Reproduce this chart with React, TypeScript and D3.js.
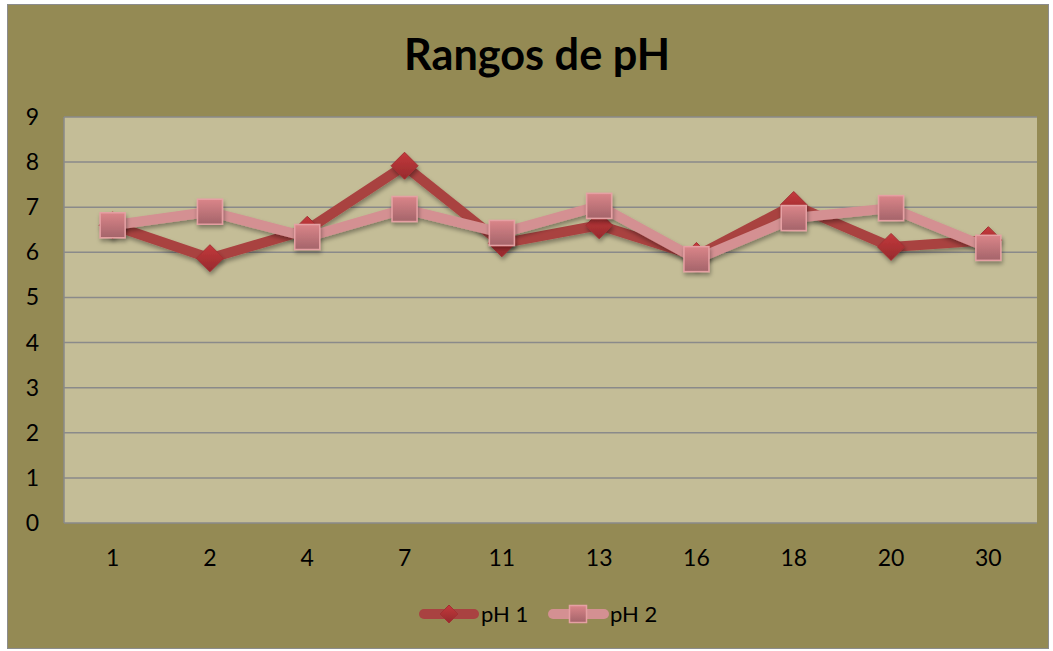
import React, { useEffect, useRef } from "react";
import * as d3 from "d3";

const categories = ["1", "2", "4", "7", "11", "13", "16", "18", "20", "30"];
const ph1 = [6.6, 5.87, 6.5, 7.92, 6.2, 6.6, 5.92, 7.05, 6.12, 6.27];
const ph2 = [6.6, 6.9, 6.34, 6.96, 6.43, 7.03, 5.85, 6.76, 6.98, 6.1];
const yTicks = [0, 1, 2, 3, 4, 5, 6, 7, 8, 9];
const seriesNames = ["pH 1", "pH 2"];

const W = 1053;
const H = 651;

export default function App() {
  const ref = useRef<SVGSVGElement>(null);

  useEffect(() => {
    const svg = d3.select(ref.current);
    svg.selectAll("*").remove();

    const font = "Lato, 'Open Sans', sans-serif";
    const left = 64, right = 1037, top = 117, bottom = 523;

    const defs = svg.append("defs");
    const g1 = defs.append("linearGradient").attr("id", "dia").attr("x1", 0).attr("y1", 0).attr("x2", 0).attr("y2", 1);
    g1.append("stop").attr("offset", "0%").attr("stop-color", "#c4393c");
    g1.append("stop").attr("offset", "100%").attr("stop-color", "#962a2d");
    const g2 = defs.append("linearGradient").attr("id", "sq").attr("x1", 0).attr("y1", 0).attr("x2", 0).attr("y2", 1);
    g2.append("stop").attr("offset", "0%").attr("stop-color", "#da8589");
    g2.append("stop").attr("offset", "100%").attr("stop-color", "#a4646a");
    const sh = defs.append("filter").attr("id", "shadow").attr("x", "-50%").attr("y", "-50%").attr("width", "200%").attr("height", "200%");
    sh.append("feDropShadow").attr("dx", 1).attr("dy", 3).attr("stdDeviation", 2).attr("flood-color", "#000").attr("flood-opacity", 0.35);

    // background
    svg.append("rect").attr("x", 7.5).attr("y", 4.5).attr("width", W - 12).attr("height", H - 7)
      .attr("fill", "#948a54").attr("stroke", "#8c8c8c").attr("stroke-width", 1);

    svg.append("text").attr("x", 537).attr("y", 70).attr("text-anchor", "middle")
      .attr("font-family", font).attr("font-weight", "bold").attr("font-size", 43)
      .attr("textLength", 266).attr("lengthAdjust", "spacingAndGlyphs")
      .attr("fill", "#000").text("Rangos de pH");

    const x = d3.scaleBand().domain(categories).range([left, right]);
    const y = d3.scaleLinear().domain([0, 9]).range([bottom, top]);

    svg.append("rect").attr("x", left).attr("y", top).attr("width", right - left).attr("height", bottom - top)
      .attr("fill", "#c4bd97");

    svg.append("g").selectAll("line").data(yTicks.slice(1)).enter().append("line")
      .attr("x1", left).attr("x2", right).attr("y1", d => y(d)).attr("y2", d => y(d))
      .attr("stroke", "#8a8a8a").attr("stroke-width", 1.5);

    svg.append("line").attr("x1", left).attr("x2", left).attr("y1", top).attr("y2", bottom)
      .attr("stroke", "#8a8a8a").attr("stroke-width", 1.5);
    svg.append("line").attr("x1", left).attr("x2", right).attr("y1", bottom).attr("y2", bottom)
      .attr("stroke", "#8a8a8a").attr("stroke-width", 1.5);

    svg.append("g").selectAll("text").data(yTicks).enter().append("text")
      .attr("x", 39).attr("y", d => y(d) + 8).attr("text-anchor", "end")
      .attr("font-family", font).attr("font-size", 23).text(d => d);

    svg.append("g").selectAll("text").data(categories).enter().append("text")
      .attr("x", d => (x(d) || 0) + x.bandwidth() / 2).attr("y", 566).attr("text-anchor", "middle")
      .attr("font-family", font).attr("font-size", 23).text(d => d);

    const cx = (i: number) => (x(categories[i]) || 0) + x.bandwidth() / 2;
    const line = d3.line<number>().x((_, i) => cx(i)).y(d => y(d));

    const diamond = (g: any, px: number, py: number, s: number) =>
      g.append("path").attr("d", `M${px},${py - s}L${px + s},${py}L${px},${py + s}L${px - s},${py}Z`)
        .attr("fill", "url(#dia)").attr("stroke", "#a33033").attr("stroke-width", 1);
    const square = (g: any, px: number, py: number, s: number) =>
      g.append("rect").attr("x", px - s).attr("y", py - s).attr("width", 2 * s).attr("height", 2 * s)
        .attr("fill", "url(#sq)").attr("stroke", "#e5a0a3").attr("stroke-width", 1.5);

    // series 1
    svg.append("path").datum(ph1).attr("d", line).attr("fill", "none")
      .attr("stroke", "#a94241").attr("stroke-width", 10).attr("stroke-linejoin", "round")
      .attr("filter", "url(#shadow)");
    const m1 = svg.append("g").attr("filter", "url(#shadow)");
    ph1.forEach((v, i) => diamond(m1, cx(i), y(v), 13.5));

    // series 2
    svg.append("path").datum(ph2).attr("d", line).attr("fill", "none")
      .attr("stroke", "#d49092").attr("stroke-width", 10).attr("stroke-linejoin", "round")
      .attr("filter", "url(#shadow)");
    const m2 = svg.append("g").attr("filter", "url(#shadow)");
    ph2.forEach((v, i) => square(m2, cx(i), y(v), 12.5));

    // legend
    const lg = svg.append("g");
    const ly = 614;
    lg.append("line").attr("x1", 424).attr("x2", 474).attr("y1", ly).attr("y2", ly)
      .attr("stroke", "#a94241").attr("stroke-width", 10).attr("stroke-linecap", "round");
    diamond(lg, 449, ly, 9);
    lg.append("text").attr("x", 481).attr("y", ly + 8).attr("font-family", font).attr("font-size", 22).text(seriesNames[0]);
    lg.append("line").attr("x1", 553).attr("x2", 604).attr("y1", ly).attr("y2", ly)
      .attr("stroke", "#d49092").attr("stroke-width", 10).attr("stroke-linecap", "round");
    square(lg, 578, ly, 8.5);
    lg.append("text").attr("x", 610).attr("y", ly + 8).attr("font-family", font).attr("font-size", 22).text(seriesNames[1]);
  }, []);

  return (
    <div style={{ position: "absolute", left: 0, top: 0 }}>
      <svg ref={ref} width={W} height={H} style={{ display: "block" }} />
    </div>
  );
}
